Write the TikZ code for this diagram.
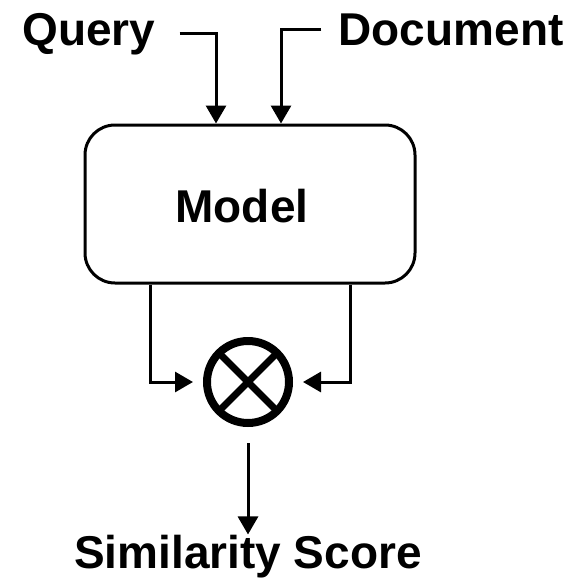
\documentclass[tikz,border=0pt]{standalone}
\usepackage{fontspec}
\setmainfont{Liberation Sans}
\usetikzlibrary{arrows.meta,shapes.geometric}
\begin{document}
\begin{tikzpicture}[x=1pt,y=-1pt,
  label/.style={font=\fontsize{46}{50}\selectfont\bfseries, inner sep=0pt, anchor=base},
  arr/.style={line width=3pt, -{Triangle[length=18pt,width=20pt]}},
  modelbox/.style={draw, line width=3pt, rounded corners=30pt, minimum width=330pt, minimum height=158pt, inner sep=0pt},
  prodnode/.style={draw, circle, line width=8pt, minimum size=82pt, inner sep=0pt}]
\useasboundingbox[fill=white] (0,0) rectangle (577,587);

% text labels
\node[label] (query) at (89,45) {Query};
\node[label] (doc) at (451,45) {Document};
\node[label] (score) at (248,568) {Similarity Score};

% model block and product symbol
\node[modelbox] (model) at (250,204) {};
\node[label] (modeltext) at (242,222) {Model};
\node[prodnode] (prod) at (248,382) {};
\draw[line width=7pt] ([shift={(45:41)}]prod.center) -- ([shift={(225:41)}]prod.center);
\draw[line width=7pt] ([shift={(135:41)}]prod.center) -- ([shift={(315:41)}]prod.center);

% column positions of the vertical connectors
\coordinate (qx) at (216,0);
\coordinate (dx) at (281,0);
\coordinate (lx) at (150,0);
\coordinate (rx) at (350,0);

% inputs into the model
\draw[arr] ([xshift=24pt]query.east) -| (model.north -| qx);
\draw[arr] ([xshift=-17pt]doc.west) -| (model.north -| dx);

% model outputs into the product
\draw[arr] (model.south -| lx) |- ([xshift=-10pt]prod.west);
\draw[arr] (model.south -| rx) |- ([xshift=10pt]prod.east);

% result
\draw[arr] ([yshift=-16pt]prod.south) -- (score.north);
\end{tikzpicture}
\end{document}
